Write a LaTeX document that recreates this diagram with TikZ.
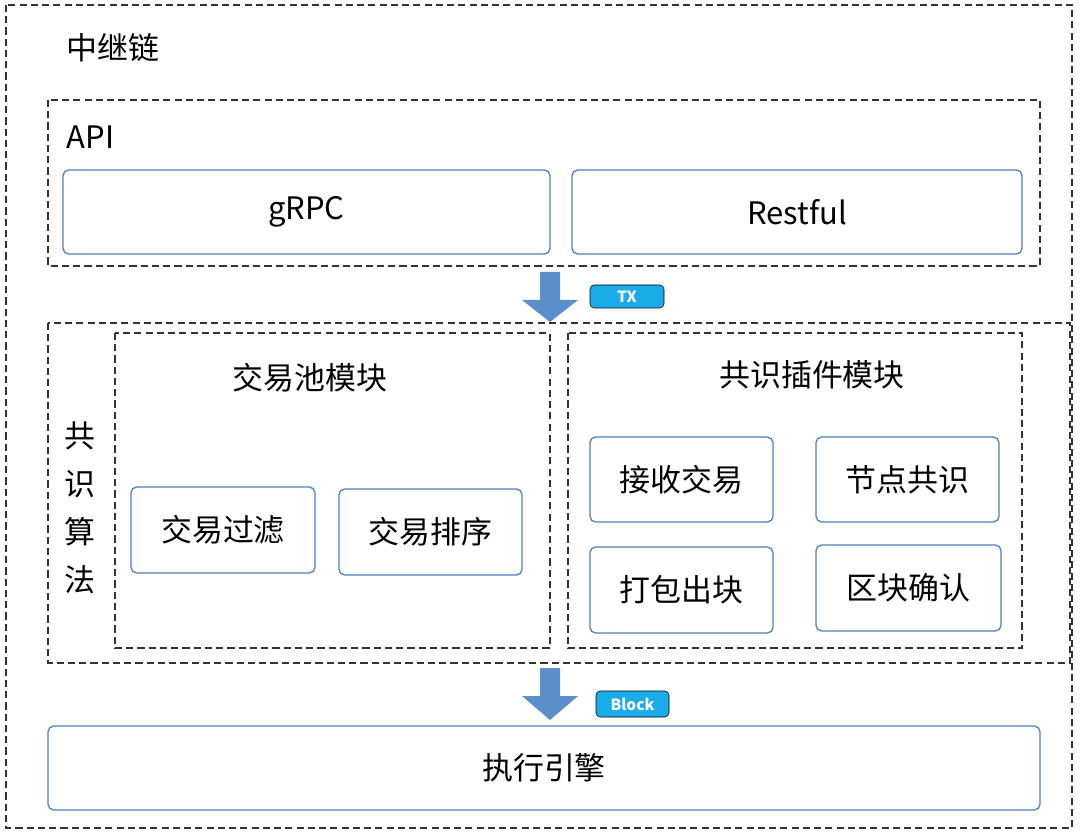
\documentclass[tikz,border=0pt]{standalone}
\usepackage{fontspec}
\setmainfont{Noto Sans CJK SC}
\begin{document}
\begin{tikzpicture}[x=0.025cm,y=-0.025cm,
  dbox/.style={draw=black!80,line width=0.9pt,dash pattern=on 5pt off 3pt},
  mod/.style={draw=mb,line width=0.9pt,rounded corners=4pt},
  lbl/.style={font=\fontsize{22}{26}\selectfont},
  badge/.style={fill=bb,rounded corners=3pt,text=white,font=\bfseries\fontsize{11}{13}\selectfont},
  bigarrow/.style={fill=ab,draw=none}]
\definecolor{mb}{HTML}{4A7EC0}
\definecolor{ab}{HTML}{5A8FCB}
\definecolor{bb}{HTML}{1AACE8}
\useasboundingbox (0,0) rectangle (1080,833);
\draw[dbox] (6,5) rectangle (1072,828);
\node[lbl,anchor=west] (title) at (62,48) {中继链};
% API
\draw[dbox] (48,100) rectangle (1040,266);
\node[lbl,anchor=west] (api) at (62,137) {API};
\draw[mod] (63,170) rectangle node[lbl] (grpc) {gRPC} (550,254);
\draw[mod] (572,170) rectangle node[lbl] (rest) {Restful} (1022,254);
% arrow 1
\fill[bigarrow] (540,272) -- (560,272) -- (560,300) -- (578,300) -- (550,322) -- (522,300) -- (540,300) -- cycle;
\draw[badge] (590,285) rectangle node (tx) {TX} (664,308);
% consensus
\draw[dbox] (48,323) rectangle (1070,663);
\node[align=center,font=\fontsize{22}{34}\selectfont] (gs) at (80,508) {共\\识\\算\\法};
\draw[dbox] (115,333) rectangle (550,648);
\node[lbl] (pool) at (310,378) {交易池模块};
\draw[mod] (131,487) rectangle node[lbl] (f) {交易过滤} (315,573);
\draw[mod] (339,489) rectangle node[lbl] (s) {交易排序} (522,575);
\draw[dbox] (568,333) rectangle (1022,648);
\node[lbl] (plug) at (812,375) {共识插件模块};
\draw[mod] (590,437) rectangle node[lbl] (r) {接收交易} (773,522);
\draw[mod] (816,437) rectangle node[lbl] (n) {节点共识} (999,522);
\draw[mod] (590,547) rectangle node[lbl] (p) {打包出块} (773,633);
\draw[mod] (816,545) rectangle node[lbl] (c) {区块确认} (1001,631);
% arrow 2
\fill[bigarrow] (540,668) -- (560,668) -- (560,696) -- (578,696) -- (550,720) -- (522,696) -- (540,696) -- cycle;
\draw[badge] (596,691) rectangle node (blk) {Block} (669,717);
\draw[mod] (48,726) rectangle node[lbl] (exec) {执行引擎} (1040,810);
\end{tikzpicture}
\end{document}
